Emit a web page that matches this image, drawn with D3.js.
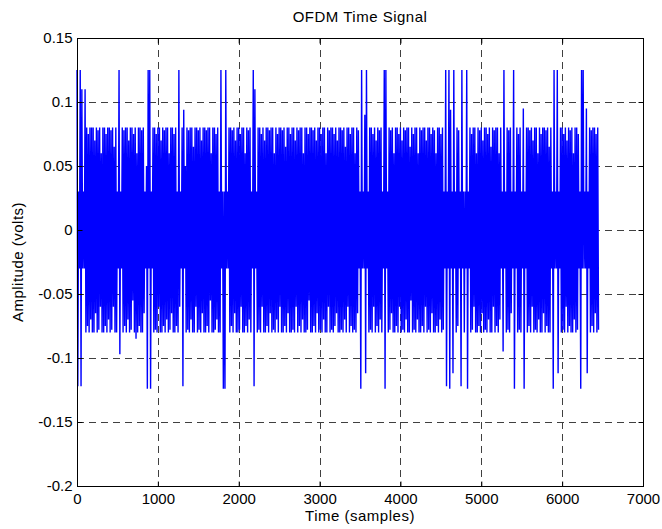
<!DOCTYPE html>
<html>
<head>
<meta charset="utf-8">
<script src="https://cdn.jsdelivr.net/npm/d3@7"></script>
<style>
  html, body { margin: 0; padding: 0; background: #fff; }
  svg { display: block; }
  text { font-family: "Liberation Sans", Arial, Helvetica, sans-serif; fill: #000; }
</style>
</head>
<body>
<svg id="chart" width="662" height="529"></svg>
<script>
// ---- Data (decimated OFDM waveform, one peak + one trough per 20 samples) ----
const sampleStep = 20;          // samples between successive peak/trough pairs
const peaks = [
  .125,.03,.125,.11,.03,.11,.08,.075,.08,.08,
  .08,.07,.08,.078,.08,.06,.08,.08,.075,.08,
  .08,.078,.08,.065,.08,.03,.125,.03,.08,.078,
  .08,.08,.07,.08,.08,.075,.08,.06,.08,.08,
  .078,.08,.03,.05,.125,.125,.03,.08,.08,.075,
  .08,.08,.07,.08,.078,.08,.08,.06,.08,.08,
  .075,.08,.03,.125,.03,.08,.094,.05,.08,.078,
  .08,.08,.065,.08,.08,.078,.08,.07,.08,.08,
  .078,.08,.08,.06,.08,.08,.075,.08,.03,.125,
  .03,.03,.125,.03,.08,.08,.078,.08,.07,.08,
  .08,.075,.08,.08,.06,.08,.078,.08,.03,.125,
  .11,.03,.08,.08,.075,.08,.07,.08,.08,.078,
  .08,.08,.06,.08,.075,.08,.08,.078,.08,.065,
  .08,.08,.075,.08,.08,.07,.08,.078,.08,.08,
  .06,.08,.08,.075,.08,.08,.078,.08,.07,.08,
  .08,.075,.08,.08,.06,.08,.078,.08,.08,.075,
  .08,.07,.08,.08,.078,.08,.065,.08,.08,.075,
  .08,.08,.06,.08,.078,.03,.125,.03,.09,.125,
  .03,.08,.08,.075,.08,.07,.08,.078,.08,.03,
  .125,.125,.03,.08,.078,.08,.06,.08,.08,.075,
  .08,.07,.08,.078,.08,.08,.065,.08,.075,.08,
  .08,.06,.08,.078,.08,.08,.07,.08,.08,.075,
  .08,.078,.06,.08,.08,.075,.08,.03,.125,.03,
  .125,.094,.03,.125,.03,.08,.078,.03,.125,.03,
  .03,.125,.03,.08,.075,.08,.08,.06,.08,.078,
  .08,.07,.08,.08,.075,.08,.065,.08,.078,.08,
  .08,.06,.08,.03,.125,.03,.08,.078,.08,.03,
  .125,.03,.08,.075,.08,.03,.095,.03,.08,.08,
  .078,.08,.07,.08,.08,.06,.08,.075,.08,.08,
  .078,.08,.065,.08,.03,.125,.03,.125,.03,.08,
  .08,.075,.08,.07,.08,.078,.08,.06,.08,.08,
  .075,.03,.125,.125,.03,.095,.03,.08,.078,.08,
  .08,.075,.08
];
const troughs = [
  -.122,-.03,-.122,-.03,-.03,-.08,-.075,-.08,-.07,-.08,
  -.08,-.065,-.08,-.078,-.06,-.08,-.08,-.075,-.08,-.07,
  -.08,-.078,-.06,-.08,-.08,-.03,-.097,-.03,-.08,-.075,
  -.08,-.07,-.08,-.078,-.055,-.08,-.085,-.08,-.075,-.08,
  -.08,-.065,-.03,-.124,-.03,-.124,-.03,-.08,-.078,-.08,
  -.06,-.08,-.08,-.075,-.08,-.07,-.08,-.078,-.065,-.08,
  -.08,-.075,-.08,-.06,-.03,-.122,-.03,-.08,-.078,-.08,
  -.07,-.08,-.08,-.06,-.08,-.078,-.08,-.065,-.08,-.08,
  -.075,-.08,-.055,-.08,-.08,-.078,-.07,-.08,-.08,-.03,
  -.124,-.124,-.03,-.03,-.08,-.075,-.08,-.065,-.08,-.08,
  -.078,-.06,-.08,-.08,-.075,-.08,-.07,-.08,-.03,-.122,
  -.03,-.08,-.078,-.08,-.06,-.08,-.08,-.075,-.08,-.065,
  -.08,-.078,-.08,-.07,-.08,-.06,-.08,-.08,-.075,-.08,
  -.065,-.08,-.08,-.078,-.08,-.06,-.08,-.075,-.08,-.07,
  -.08,-.08,-.078,-.055,-.08,-.08,-.075,-.08,-.065,-.08,
  -.078,-.08,-.07,-.08,-.08,-.06,-.08,-.078,-.08,-.075,
  -.065,-.08,-.08,-.078,-.08,-.07,-.08,-.06,-.08,-.075,
  -.08,-.078,-.08,-.065,-.03,-.124,-.03,-.03,-.112,-.03,
  -.08,-.078,-.08,-.06,-.08,-.075,-.08,-.07,-.08,-.03,
  -.124,-.03,-.08,-.078,-.065,-.08,-.08,-.075,-.08,-.06,
  -.08,-.078,-.08,-.07,-.08,-.08,-.055,-.08,-.078,-.08,
  -.07,-.08,-.08,-.075,-.08,-.06,-.08,-.078,-.08,-.065,
  -.08,-.08,-.075,-.08,-.07,-.08,-.078,-.03,-.122,-.03,
  -.124,-.03,-.112,-.03,-.08,-.075,-.03,-.122,-.03,-.08,
  -.03,-.124,-.03,-.08,-.078,-.06,-.08,-.08,-.075,-.08,
  -.065,-.08,-.078,-.08,-.07,-.08,-.08,-.06,-.08,-.075,
  -.08,-.07,-.03,-.095,-.03,-.08,-.078,-.08,-.065,-.03,
  -.124,-.03,-.08,-.078,-.08,-.03,-.124,-.03,-.08,-.075,
  -.08,-.06,-.08,-.078,-.08,-.07,-.08,-.08,-.065,-.08,
  -.075,-.08,-.08,-.03,-.124,-.03,-.03,-.112,-.03,-.08,
  -.078,-.08,-.06,-.08,-.075,-.08,-.08,-.07,-.08,-.078,
  -.03,-.124,-.03,-.03,-.03,-.112,-.03,-.08,-.075,-.08,
  -.065,-.08,-.078
];

const xTicks = [0, 1000, 2000, 3000, 4000, 5000, 6000, 7000];
const xTickLabels = ["0", "1000", "2000", "3000", "4000", "5000", "6000", "7000"];
const yTicks = [-0.2, -0.15, -0.1, -0.05, 0, 0.05, 0.1, 0.15];
const yTickLabels = ["-0.2", "-0.15", "-0.1", "-0.05", "0", "0.05", "0.1", "0.15"];

const titleText = "OFDM Time Signal";
const xLabelText = "Time (samples)";
const yLabelText = "Amplitude (volts)";

// ---- Layout ----
const L = 77, R = 643, T = 38, B = 486;
const svg = d3.select("#chart");

const x = d3.scaleLinear().domain([0, 7000]).range([L, R]);
const y = d3.scaleLinear().domain([-0.2, 0.15]).range([B, T]);

// signal points: each pair = peak then trough
const points = [];
peaks.forEach((p, i) => {
  points.push([i * sampleStep, p]);
  points.push([i * sampleStep + sampleStep / 2, troughs[i]]);
});

// grid
const grid = svg.append("g").attr("class", "grid")
  .attr("stroke", "#404040").attr("stroke-width", 1).attr("stroke-dasharray", "7,5");
grid.selectAll("line.v").data(xTicks.filter(d => d > 0 && d < 7000)).enter()
  .append("line")
  .attr("x1", d => Math.round(x(d)) + 0.5).attr("x2", d => Math.round(x(d)) + 0.5)
  .attr("y1", T).attr("y2", B);
grid.selectAll("line.h").data(yTicks.filter(d => d > -0.2 && d < 0.15)).enter()
  .append("line")
  .attr("y1", d => Math.round(y(d)) + 0.5).attr("y2", d => Math.round(y(d)) + 0.5)
  .attr("x1", L).attr("x2", R);

// signal
const line = d3.line().x(d => x(d[0])).y(d => y(d[1]));
svg.append("path")
  .datum(points)
  .attr("fill", "none")
  .attr("stroke", "#0000ff")
  .attr("stroke-width", 1.4)
  .attr("stroke-linejoin", "bevel")
  .attr("d", line);

// axes (ticks inward)
const fontSize = 15;
const xAxis = d3.axisBottom(x).tickValues(xTicks)
  .tickFormat((d, i) => xTickLabels[i]).tickSize(-5).tickPadding(7);
const gx = svg.append("g").attr("transform", `translate(0,${B + 0.5})`).call(xAxis);
const yAxis = d3.axisLeft(y).tickValues(yTicks)
  .tickFormat((d, i) => yTickLabels[i]).tickSize(-5).tickPadding(5);
const gy = svg.append("g").attr("transform", `translate(${L + 0.5},0)`).call(yAxis);
const gxTop = svg.append("g").attr("transform", `translate(0,${T + 0.5})`)
  .call(d3.axisTop(x).tickValues(xTicks).tickSize(-5).tickFormat(""));
const gyRight = svg.append("g").attr("transform", `translate(${R + 0.5},0)`)
  .call(d3.axisRight(y).tickValues(yTicks).tickSize(-5).tickFormat(""));

[gx, gy, gxTop, gyRight].forEach(g => {
  g.select(".domain").remove();
  g.selectAll(".tick line").attr("stroke", "#000");
  g.selectAll("text").attr("font-size", fontSize)
    .attr("font-family", "'Liberation Sans', Arial, sans-serif").attr("fill", "#000");
});

// box
svg.append("rect")
  .attr("x", L + 0.5).attr("y", T + 0.5)
  .attr("width", R - L).attr("height", B - T)
  .attr("fill", "none").attr("stroke", "#000").attr("stroke-width", 1);

// title and labels
svg.append("text").attr("x", (L + R) / 2).attr("y", 22)
  .attr("text-anchor", "middle").attr("font-size", fontSize)
  .attr("letter-spacing", 0.5).text(titleText);
svg.append("text").attr("x", (L + R) / 2).attr("y", 521)
  .attr("text-anchor", "middle").attr("font-size", fontSize)
  .attr("letter-spacing", 0.5).text(xLabelText);
svg.append("text")
  .attr("transform", `translate(23,${(T + B) / 2}) rotate(-90)`)
  .attr("text-anchor", "middle").attr("font-size", fontSize)
  .attr("letter-spacing", 0.5).text(yLabelText);
</script>
</body>
</html>
